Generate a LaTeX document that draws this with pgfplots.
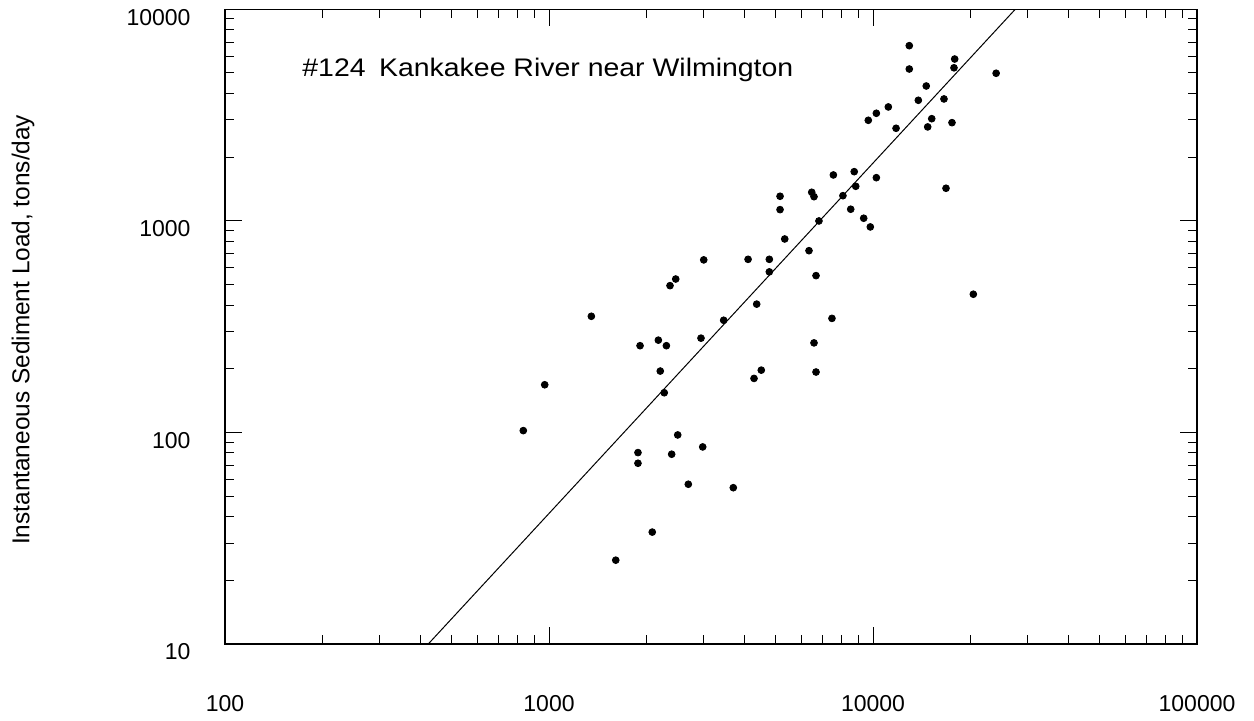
\documentclass[border=0pt]{standalone}
\usepackage{fontspec}
\setmainfont{Liberation Sans}
\usepackage{graphicx}
\usepackage{pgfplots}
\pgfplotsset{compat=1.18}
\begin{document}
\fontsize{11.5}{13.8}\selectfont
\begin{tikzpicture}
\begin{axis}[
  xmode=log, ymode=log,
  scale only axis, width=486pt, height=317.35pt,
  xmin=100, xmax=100000, ymin=10, ymax=10000,
  xtick={100,1000,10000,100000}, xticklabels={100,1000,10000,100000},
  ytick={10,100,1000,10000}, yticklabels={10,100,1000,10000},
  tick align=inside,
  major tick length=8.5pt, minor tick length=4.3pt,
  axis line style={line width=0.6pt},
  every tick/.style={black, line width=0.5pt},
  tick label style={font=\fontsize{11.5}{13.8}\selectfont},
  xticklabel style={yshift=-21.5pt},
  yticklabel style={xshift=-13.2pt, yshift=-4pt},
  ylabel={Instantaneous Sediment Load, tons/day},
  every axis y label/.style={at={(axis description cs:-0.2013,0.495)}, rotate=90, anchor=base, inner sep=0pt, font=\fontsize{12.2}{14.6}\selectfont},
]
\addplot[only marks, mark=*, mark size=1.7pt, black] coordinates {
(12940,6730) (12940,5220) (17870,5820) (17780,5290) (23990,4985)
(14600,4340) (13800,3715) (16560,3770) (11150,3455) (10240,3225)
(9670,2988) (15180,3040) (14750,2780) (17530,2912) (11780,2739)
(8750,1708) (8845,1457) (10240,1600) (16800,1426) (8535,1135)
(9360,1029) (9810,936) (7545,1648) (5165,1307) (6470,1365)
(6575,1301) (8075,1315) (5165,1130) (6810,999) (5340,821)
(6345,723) (3003,654) (4115,658) (4786,658) (4786,574)
(6670,551) (4375,404) (3460,339) (2945,279) (7470,346)
(6575,265) (20400,450) (4520,197) (4293,180) (6670,193)
(1351,354) (1910,257) (2175,273) (2303,257) (2205,195)
(2268,154) (970,168) (833,102) (2496,97.3) (2981,85.4)
(1882,80.3) (1882,71.5) (2391,78.9) (2691,56.9) (3705,54.8)
(2083,33.8) (1607,24.9) (2363,494) (2461,531)
};
\addplot[black, line width=0.5pt] coordinates {(424,10) (27480,10000)};
\node[anchor=west, inner sep=0pt, font=\fontsize{12.7}{15.2}\selectfont] at (rel axis cs:0.0792,0.905) {\scalebox{1.12}[1]{\#124\hspace{6pt}Kankakee River near Wilmington}};
\end{axis}
\path (current axis.south west) ++(-112.5pt,-38.35pt);
\path (current axis.north east) ++(28.5pt,4.65pt);
\end{tikzpicture}
\end{document}
